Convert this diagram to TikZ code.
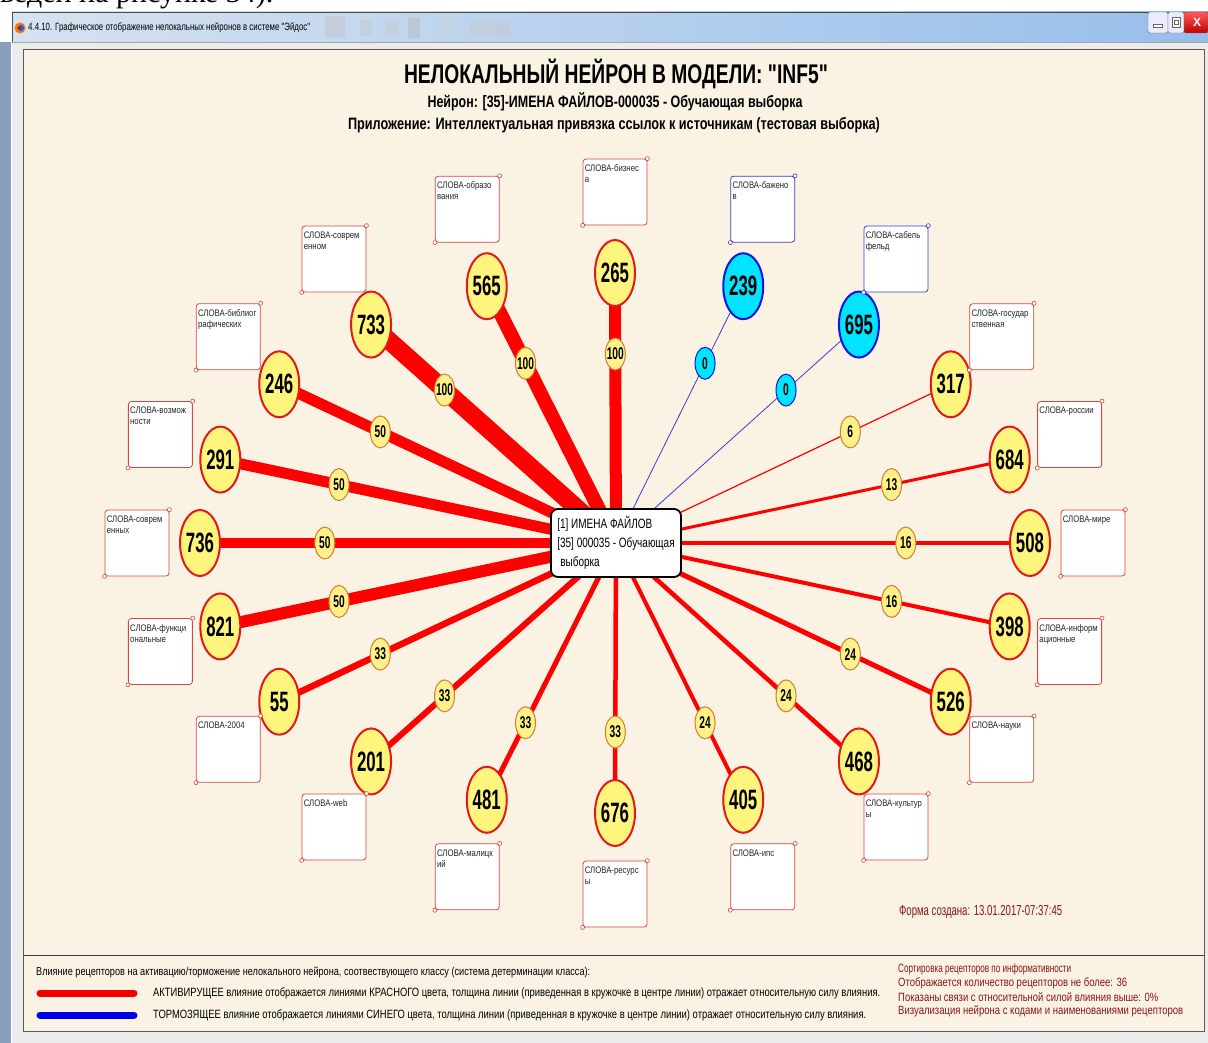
\documentclass[tikz,border=0pt]{standalone}
\usepackage{fontspec}
\usepackage{graphicx}
\setmainfont{Liberation Sans}[Ligatures=TeXOff]
\newfontfamily\numf[FakeStretch=0.6]{Liberation Sans}
\newfontfamily\narf[FakeStretch=0.74]{Liberation Sans}
\newfontfamily\boxf[FakeStretch=0.82]{Liberation Sans}
\newfontfamily\serf{Liberation Serif}
\usetikzlibrary{shapes.geometric}
\pgfdeclarelayer{back}
\pgfdeclarelayer{bg}
\pgfsetlayers{back,bg,main}

\definecolor{cream}{RGB}{250,243,228}
\definecolor{nyel}{RGB}{255,245,125}
\definecolor{nred}{RGB}{225,25,25}
\definecolor{lred}{RGB}{255,0,0}
\definecolor{lyel}{RGB}{255,240,135}
\definecolor{lbrd}{RGB}{205,125,55}
\definecolor{ncyan}{RGB}{0,228,255}
\definecolor{nblue}{RGB}{20,20,225}
\definecolor{lblue}{RGB}{60,60,210}
\definecolor{bxred}{RGB}{215,70,70}
\definecolor{bxblue}{RGB}{60,60,200}
\definecolor{dred}{RGB}{140,20,20}
\definecolor{tbl}{RGB}{214,226,240}
\definecolor{tbr}{RGB}{150,190,235}
\definecolor{frameb}{RGB}{135,158,190}
\definecolor{stripg}{RGB}{236,236,236}

\newlength\fitlen
\newcommand\fitw[2]{\settowidth\fitlen{#2}\pgfmathsetmacro\fitr{#1/\fitlen}\scalebox{\fitr}[1]{#2}}

\begin{document}
\begin{tikzpicture}[x=1pt,y=-1pt,
  bign/.style={ellipse, minimum width=40pt, minimum height=66pt, inner sep=0pt,
    line width=2pt, text=black, font=\numf\bfseries\fontsize{28}{28}\selectfont},
  lbl/.style={ellipse, minimum width=20pt, minimum height=32pt, inner sep=0pt,
    line width=1pt, text=black, font=\numf\bfseries\fontsize{17}{17}\selectfont},
  rbox/.style={rectangle, rounded corners=3pt, minimum width=64pt, minimum height=66pt,
    fill=white, line width=0.8pt, inner sep=0pt},
  btext/.style={anchor=north west, inner sep=0pt, align=left, text=black!85,
    font=\boxf\fontsize{9.5}{11}\selectfont},
  ttl/.style={inner sep=0pt},
  leg/.style={anchor=west, inner sep=0pt}]
\useasboundingbox (0,0) rectangle (1208,1043);

\begin{pgfonlayer}{back}
  % outer page and window chrome
  \fill[white] (0,0) rectangle (1208,12);
  \node[anchor=base west, inner sep=0pt, font=\serf\fontsize{30}{30}\selectfont] (pagetext) at (0,3) {веден на рисунке 34).};
  \fill[white] (0,12) rectangle (12,42);
  \shade[left color=tbl, right color=tbr] (12,12) rectangle (1208,42);
  \fill[gray!45, opacity=0.5] (325,16) rectangle (345,38);
  \fill[gray!45, opacity=0.4] (360,20) rectangle (372,36);
  \fill[gray!45, opacity=0.4] (385,20) rectangle (398,36);
  \fill[gray!55, opacity=0.45] (408,18) rectangle (420,38);
  \fill[gray!35, opacity=0.4] (440,22) rectangle (452,36);
  \fill[gray!45, opacity=0.4] (470,22) rectangle (510,36);
  \draw[black!70, line width=0.8pt] (12,12) -- (1208,12);
  \draw[black!70, line width=0.8pt] (12,12) -- (12,1043);
  \fill[stripg] (12,42) rectangle (1208,50);
  \draw[gray!70, line width=0.6pt] (12,42) -- (1208,42);
  \fill[frameb] (0,42) rectangle (11,1043);
  \fill[stripg] (12,50) rectangle (23,1043);
  \fill[stripg] (1204,50) rectangle (1208,1043);
  \fill[stripg] (12,1031) rectangle (1208,1043);
  % window icon and title
  \fill[orange!90!red] (20,28) circle[radius=5.5pt];
  \fill[blue!60!cyan] (21,28) circle[radius=3pt];
  \fill[red!80!black] (19,28) circle[radius=1.6pt];
  \node[anchor=west, inner sep=0pt, font=\fontsize{10.5}{10.5}\selectfont] (wintitle) at (28,28) {\fitw{282}{4.4.10. Графическое отображение нелокальных нейронов в системе "Эйдос"}};
  % window buttons
  \draw[black!60, fill=blue!8, rounded corners=2pt] (1148,12) rectangle (1168,33);
  \draw[black!60, fill=white] (1153,24) rectangle (1162,27.5);
  \draw[black!60, fill=blue!8, rounded corners=2pt] (1168,12) rectangle (1184,33);
  \draw[black!60, fill=white] (1172,17) rectangle (1180,27);
  \draw[black!60, fill=white] (1174,20) rectangle (1178,24);
  \draw[black!60, top color=red!65, bottom color=red!75!black, rounded corners=2pt] (1184,12) rectangle (1208,33);
  \node[text=white, font=\bfseries\fontsize{12}{12}\selectfont, inner sep=0pt] (closex) at (1197,22) {X};
  % panel
  \fill[cream] (23,50) rectangle (1204,1031);
  \draw[black!65, line width=1pt] (23,50) rectangle (1204,1031);
  \draw[black!75, line width=1pt] (23,955) -- (1204,955);
\end{pgfonlayer}

% titles
\node[ttl, font=\bfseries\fontsize{27}{27}\selectfont] (title) at (616,74) {\fitw{424}{НЕЛОКАЛЬНЫЙ НЕЙРОН В МОДЕЛИ: "INF5"}};
\node[ttl, font=\bfseries\fontsize{16.5}{16.5}\selectfont] (sub1) at (615,102) {\fitw{375}{Нейрон: [35]-ИМЕНА ФАЙЛОВ-000035 - Обучающая выборка}};
\node[ttl, font=\bfseries\fontsize{16.5}{16.5}\selectfont] (sub2) at (614,125) {\fitw{532}{Приложение: Интеллектуальная привязка ссылок к источникам (тестовая выборка)}};

% central neuron
\node[draw=black, line width=1.8pt, fill=white, rounded corners=7pt,
  minimum width=130pt, minimum height=68pt, align=left, inner sep=3pt,
  font=\narf\fontsize{13.5}{19}\selectfont] (c) at (616,543)
  {[1] ИМЕНА ФАЙЛОВ\\{}[35] 000035 - Обучающая\\\hspace*{3pt}выборка};

% receptors
\foreach \i/\num/\wt/\lw/\la/\lb in {
  0/265/100/12/{СЛОВА-бизнес}/{а},
  1/239/0/0.8/{СЛОВА-бажено}/{в},
  2/695/0/0.8/{СЛОВА-сабель}/{фельд},
  3/317/6/1.2/{СЛОВА-государ}/{ственная},
  4/684/13/3/{СЛОВА-россии}/{},
  5/508/16/3.5/{СЛОВА-мире}/{},
  6/398/16/4/{СЛОВА-информ}/{ационные},
  7/526/24/5/{СЛОВА-науки}/{},
  8/468/24/4.5/{СЛОВА-культур}/{ы},
  9/405/24/4/{СЛОВА-ипс}/{},
  10/676/33/4.5/{СЛОВА-ресурс}/{ы},
  11/481/33/5/{СЛОВА-малицк}/{ий},
  12/201/33/6/{СЛОВА-web}/{},
  13/55/33/6.5/{СЛОВА-2004}/{},
  14/821/50/12/{СЛОВА-функци}/{ональные},
  15/736/50/10/{СЛОВА-соврем}/{енных},
  16/291/50/11/{СЛОВА-возмож}/{ности},
  17/246/50/11/{СЛОВА-библиог}/{рафических},
  18/733/100/18/{СЛОВА-соврем}/{енном},
  19/565/100/14/{СЛОВА-образо}/{вания}}{
  \pgfmathsetmacro\ang{90-18*\i}
  \ifnum\wt=0
    \def\nf{ncyan}\def\nd{nblue}\def\lf{ncyan}\def\ld{nblue}\def\bc{bxblue}\def\lc{lblue}
  \else
    \def\nf{nyel}\def\nd{nred}\def\lf{lyel}\def\ld{lbrd}\def\bc{bxred}\def\lc{lred}
  \fi
  \node[bign, fill=\nf, draw=\nd] (n\i) at ({615+415*cos(\ang)},{543-270*sin(\ang)}) {\makebox[0pt]{\num}};
  \node[rbox, draw=\bc] (b\i) at ({615+478*cos(\ang)},{543-351*sin(\ang)}) {};
  \node[btext] (t\i) at ([xshift=2pt,yshift=-6pt]b\i.north west) {\la\\\lb};
  \draw[\bc, fill=white, line width=0.6pt] (b\i.north east) circle[radius=2pt]
    (b\i.south west) circle[radius=2pt];
  \begin{pgfonlayer}{bg}
    \draw[\lc, line width=\lw pt] (c.center) -- node[pos=0.7, lbl, fill=\lf, draw=\ld] (w\i) {\makebox[0pt]{\wt}} (n\i.center);
  \end{pgfonlayer}
}

% date
\node[leg, text=dred, font=\fontsize{14.5}{14.5}\selectfont] (date) at (899,912) {\fitw{163}{Форма создана: 13.01.2017-07:37:45}};

% legend
\node[leg, font=\fontsize{11.5}{11.5}\selectfont] (lg1) at (36,972) {\fitw{554}{Влияние рецепторов на активацию/торможение нелокального нейрона, соотвествующего классу (система детерминации класса):}};
\coordinate (rs) at (40,993);
\coordinate (re) at (134,993);
\coordinate (bs) at (40,1015);
\coordinate (be) at (134,1015);
\draw[red!95!black, line width=7pt, line cap=round] (rs) -- (re);
\draw[blue!90!black, line width=7pt, line cap=round] (bs) -- (be);
\node[leg, font=\fontsize{12}{12}\selectfont] (lg2) at (153,993) {\fitw{727}{АКТИВИРУЩЕЕ влияние отображается линиями КРАСНОГО цвета, толщина линии (приведенная в кружочке в центре линии) отражает относительную силу влияния.}};
\node[leg, font=\fontsize{12}{12}\selectfont] (lg3) at (153,1015) {\fitw{713}{ТОРМОЗЯЩЕЕ влияние отображается линиями СИНЕГО цвета, толщина линии (приведенная в кружочке в центре линии) отражает относительную силу влияния.}};
\node[leg, text=dred, font=\fontsize{12}{12}\selectfont] (r1) at (898,969) {\fitw{173}{Сортировка рецепторов по информативности}};
\node[leg, text=dred, font=\fontsize{12}{12}\selectfont] (r2) at (898,983) {\fitw{229}{Отображается количество рецепторов не более: 36}};
\node[leg, text=dred, font=\fontsize{12}{12}\selectfont] (r3) at (898,997) {\fitw{260}{Показаны связи с относительной силой влияния выше: 0\%}};
\node[leg, text=dred, font=\fontsize{12}{12}\selectfont] (r4) at (898,1011) {\fitw{285}{Визуализация нейрона с кодами и наименованиями рецепторов}};
\end{tikzpicture}
\end{document}
